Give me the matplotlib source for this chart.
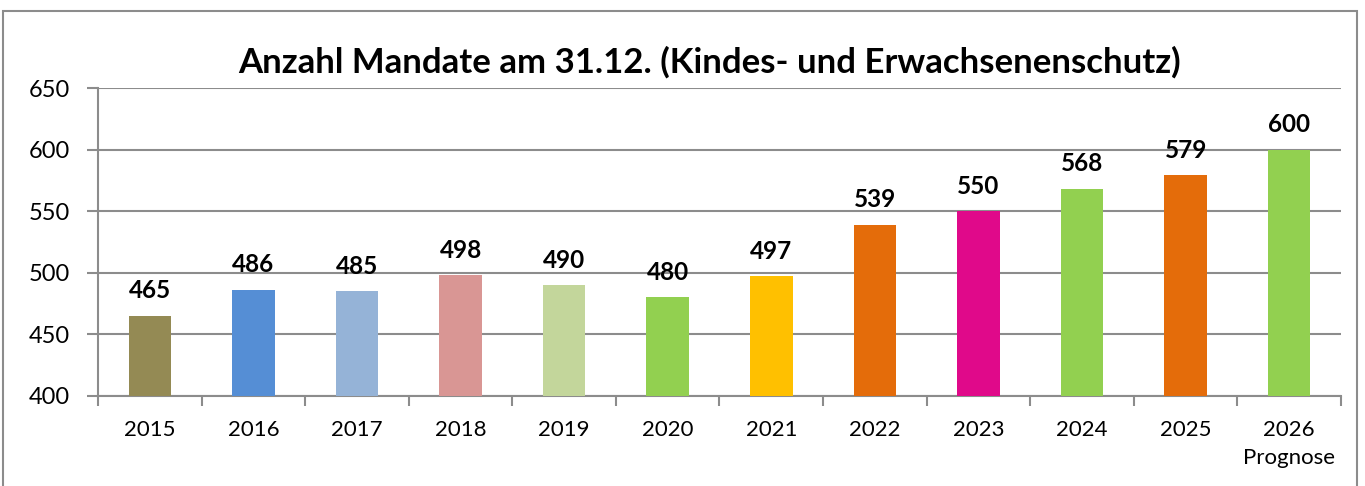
import matplotlib.pyplot as plt
from matplotlib.patches import Rectangle

years = ['2015', '2016', '2017', '2018', '2019', '2020', '2021', '2022', '2023', '2024', '2025', '2026\nPrognose']
mandate = [465, 486, 485, 498, 490, 480, 497, 539, 550, 568, 579, 600]
colors = ['#948A54', '#558ED5', '#95B3D7', '#D99694', '#C3D69B', '#92D050',
          '#FFC000', '#E46C0A', '#E0098A', '#92D050', '#E46C0A', '#92D050']

plt.rcParams['font.family'] = ['Lato', 'DejaVu Sans']
grey = '#8C8C8C'

fig = plt.figure(figsize=(13.65, 4.86), dpi=100)
ax = fig.add_axes([98 / 1365, 1 - 396 / 486, (1341 - 98) / 1365, (396 - 88) / 486])

x = list(range(len(years)))
ax.bar(x, [v - 400 for v in mandate], bottom=400, width=0.41, color=colors, zorder=3)
for xi, v in zip(x, mandate):
    ax.text(xi, v + 11, str(v), ha='center', va='bottom', fontsize=17.5, fontweight='bold', zorder=4)

ax.set_xlim(-0.5, len(years) - 0.5)
ax.set_ylim(400, 650)
ax.set_yticks(range(400, 651, 50))
ax.yaxis.grid(True, color=grey, linewidth=1.5, zorder=0)
ax.set_xticks(x)
ax.set_xticklabels(years, fontsize=16, linespacing=1.55)
ax.set_xticks([i - 0.5 for i in range(len(years) + 1)], minor=True)
ax.tick_params(axis='x', which='major', length=0, pad=17)
ax.tick_params(axis='x', which='minor', length=7, width=1.5, color=grey, direction='out')
ax.tick_params(axis='y', labelsize=17, length=8, width=1.5, color=grey, pad=12)
for s in ['top', 'right']:
    ax.spines[s].set_visible(False)
for s in ['left', 'bottom']:
    ax.spines[s].set_color(grey)
    ax.spines[s].set_linewidth(1.5)

fig.text(710 / 1365, 1 - 62 / 486, 'Anzahl Mandate am 31.12. (Kindes- und Erwachsenenschutz)',
         ha='center', va='center', fontsize=25, fontweight='bold')

fig.patches.append(Rectangle((3 / 1365, -0.1), (1357 - 3) / 1365, 1.1 - 11 / 486,
                             transform=fig.transFigure, fill=False, edgecolor=grey, linewidth=1.5))

fig.savefig('out.png', dpi=100)
